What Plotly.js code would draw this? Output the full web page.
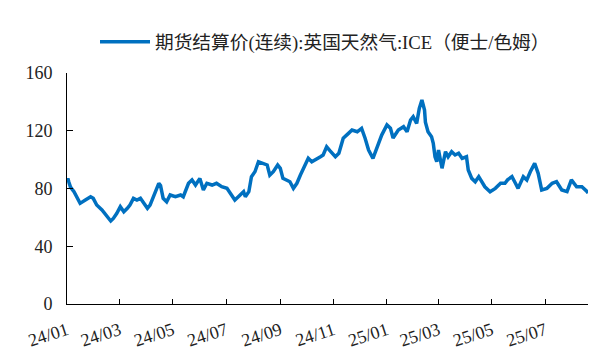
<!DOCTYPE html>
<html>
<head>
<meta charset="utf-8">
<script src="https://cdn.plot.ly/plotly-3.0.1.min.js"></script>
<style>html,body{margin:0;padding:0;background:#fff;}#chart{width:594px;height:357px;}</style>
</head>
<body>
<div id="chart"></div>
<script>
const seriesName = '期货结算价(连续):英国天然气:ICE（便士/色姆）';

const dates = [
'2024-01-01','2024-01-02','2024-01-03','2024-01-05','2024-01-09','2024-01-12','2024-01-16','2024-01-22','2024-01-28','2024-01-31',
'2024-02-04','2024-02-10','2024-02-16','2024-02-20','2024-02-23','2024-02-27','2024-03-02','2024-03-06','2024-03-10','2024-03-13',
'2024-03-17','2024-03-21','2024-03-25','2024-03-29','2024-04-02','2024-04-05','2024-04-11','2024-04-15','2024-04-17','2024-04-20',
'2024-04-24','2024-04-28','2024-05-04','2024-05-10','2024-05-13','2024-05-19','2024-05-23','2024-05-27','2024-06-01','2024-06-05',
'2024-06-09','2024-06-15','2024-06-20','2024-06-26','2024-07-02','2024-07-08','2024-07-11','2024-07-15','2024-07-21','2024-07-23',
'2024-07-27','2024-07-30','2024-08-03','2024-08-07','2024-08-11','2024-08-17','2024-08-20','2024-08-24','2024-08-29','2024-09-01',
'2024-09-04','2024-09-09','2024-09-12','2024-09-16','2024-09-20','2024-09-24','2024-09-29','2024-10-03','2024-10-07','2024-10-11',
'2024-10-17','2024-10-20','2024-10-24','2024-10-28','2024-11-03','2024-11-07','2024-11-12','2024-11-18','2024-11-22','2024-11-28',
'2024-12-03','2024-12-07','2024-12-11','2024-12-16','2024-12-20','2024-12-26','2025-01-01','2025-01-05','2025-01-08','2025-01-14',
'2025-01-20','2025-01-24','2025-01-28','2025-01-31','2025-02-04','2025-02-07','2025-02-10','2025-02-13','2025-02-14','2025-02-17',
'2025-02-21','2025-02-23','2025-02-25','2025-02-27','2025-03-01','2025-03-05','2025-03-09','2025-03-12','2025-03-16','2025-03-20',
'2025-03-24','2025-03-28','2025-04-02','2025-04-04','2025-04-08','2025-04-12','2025-04-16','2025-04-20','2025-04-23','2025-04-29',
'2025-05-05','2025-05-11','2025-05-16','2025-05-19','2025-05-24','2025-05-28','2025-05-31','2025-06-06','2025-06-10','2025-06-14',
'2025-06-19','2025-06-23','2025-06-27','2025-07-03','2025-07-09','2025-07-14','2025-07-20','2025-07-26','2025-07-31','2025-08-06',
'2025-08-12','2025-08-18','2025-08-19'
];

const values = [
84,87,84.7,81,77.8,74.3,69.7,72,74.3,73.2,
68.6,65.1,60.5,57.5,59.3,62.8,67.4,63.9,66.3,68.6,
73.2,72,73.2,69.7,66.3,68.5,76.7,83.6,82,73.2,
70.8,75.5,74.3,75.5,74.3,83.6,85.9,82.4,87,79,
83.6,82.4,83.6,81.2,80.1,74.3,72,74.3,77.8,74.3,
77.8,88.2,91.6,98.5,97.4,96.3,89.3,91.6,96.3,94,
87,85.9,84.7,80.1,83.6,89.3,96.3,100.9,98.5,99.7,
102,103.2,108.9,106,102,104.4,114.8,118.2,120.5,119.3,
121.7,114.8,106.6,100.9,107.8,117,124,121.7,115,120.5,
122.8,119.3,127.4,129.7,125.1,135.5,141.3,134.3,126,119.3,
115.9,111.3,102,98.5,106.6,94,105.5,102,105.5,103.2,
104.4,100.9,102,92.8,87,84.7,88.2,84.7,81.2,77.8,
80.1,83.6,83.6,86,88.2,83.6,80.1,88.2,85.9,91.6,
97.4,90.5,79,80.1,83.6,84.7,79,77.8,86,81.2,
81.2,77.8,76.7
];

const xTickVals = ['2024-01-01','2024-03-01','2024-05-01','2024-07-01','2024-09-01','2024-11-01','2025-01-01','2025-03-01','2025-05-01','2025-07-01'];
const xTickText = ['24/01','24/03','24/05','24/07','24/09','24/11','25/01','25/03','25/05','25/07'];
const yTickVals = [0,40,80,120,160];
const yTickText = ['0','40','80','120','160'];

const lineColor = 'rgb(0,112,192)';
const tickFont = {family: '"Liberation Serif", "Times New Roman", serif', size: 18, color: '#222'};

const trace = {
  x: dates, y: values, type: 'scatter', mode: 'lines', name: seriesName,
  line: {color: lineColor, width: 3.5}
};

const layout = {
  width: 594, height: 357,
  margin: {l: 67, r: 6, t: 73, b: 53},
  paper_bgcolor: '#fff', plot_bgcolor: '#fff',
  showlegend: true,
  legend: {
    orientation: 'h', xref: 'container', yref: 'container',
    x: 95/594, xanchor: 'left', y: 1 - 42/357, yanchor: 'middle',
    font: {family: '"Liberation Serif", "Noto Sans CJK SC", serif', size: 18.7, color: '#222'},
    itemwidth: 50, bgcolor: 'rgba(0,0,0,0)'
  },
  xaxis: {
    type: 'date', range: ['2024-01-01', '2025-08-19'],
    tickvals: xTickVals, ticktext: xTickText, tickangle: -18,
    ticks: 'inside', ticklen: 5, tickcolor: '#000', tickwidth: 1,
    showline: true, linecolor: '#000', linewidth: 1,
    showgrid: false, zeroline: false, tickfont: tickFont, ticklabelstandoff: 8
  },
  yaxis: {
    range: [0, 160], tickvals: yTickVals, ticktext: yTickText,
    ticks: 'inside', ticklen: 6, tickcolor: '#000', tickwidth: 1,
    showline: true, linecolor: '#000', linewidth: 1,
    showgrid: false, zeroline: false, tickfont: tickFont, ticklabelstandoff: 10
  }
};

Plotly.newPlot('chart', [trace], layout, {staticPlot: true, displayModeBar: false});
</script>
</body>
</html>
